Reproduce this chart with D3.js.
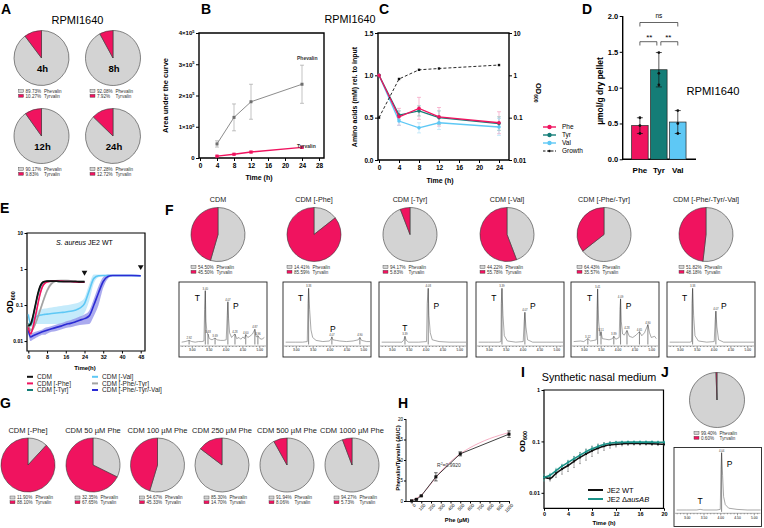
<!DOCTYPE html>
<html>
<head>
<meta charset="utf-8">
<script src="https://d3js.org/d3.v7.min.js"></script>
<style>
  body { margin: 0; background: #fff; }
  svg { font-family: Arial, "Liberation Sans", Helvetica, sans-serif; }
</style>
</head>
<body>
<svg id="fig" width="764" height="528"></svg>
<script>
// colours
const PINK = "#f0135f", TEAL = "#147d77", LBLUE = "#5ec8f5", PIEGREY = "#d3d3d3", DBLUE = "#2b2bd4";

// ---- A: RPMI1640 pies
const aLabels = ["4h", "8h", "12h", "24h"];
const aPhevalin = [89.73, 92.08, 90.17, 87.28];
const aTyrvalin = [10.27, 7.92, 9.83, 12.72];

// ---- B: area under the curve
const bTime = [4, 8, 12, 24];
const bPhevalin = [45000, 130000, 180000, 236000];
const bPhevalinSd = [10000, 43000, 56000, 61000];
const bTyrvalin = [6000, 12000, 19000, 34000];
const bTyrvalinSd = [1500, 2000, 2500, 3500];

// ---- C: amino acids rel. to input + growth
const cTime = [0, 4, 8, 12, 24];
const cPhe = [1.0, 0.51, 0.61, 0.51, 0.44];
const cPheSd = [0, 0.10, 0.13, 0.11, 0.13];
const cTyr = [1.0, 0.53, 0.58, 0.50, 0.43];
const cTyrSd = [0, 0.05, 0.06, 0.08, 0.08];
const cVal = [1.0, 0.46, 0.38, 0.44, 0.39];
const cValSd = [0, 0.05, 0.06, 0.08, 0.10];
const cGrowth = [0.1, 0.82, 1.35, 1.45, 1.75];

// ---- D: pellet amino acids
const dNames = ["Phe", "Tyr", "Val"];
const dMeans = [0.47, 1.25, 0.52];
const dSd = [0.11, 0.24, 0.16];
const dPoints = [[0.58, 0.47, 0.36], [1.49, 1.20, 1.04], [0.68, 0.50, 0.36]];

// ---- E: growth curves in CDM
const eNames = ["CDM", "CDM [-Phe]", "CDM [-Tyr]", "CDM [-Val]", "CDM [-Phe/-Tyr]", "CDM [-Phe/-Tyr/-Val]"];
const eTime = [0, 1, 2, 3, 4, 5, 6, 7, 8, 10, 12, 14, 16, 18, 20, 22, 24, 26, 28, 30, 32, 34, 36, 40, 44, 48];
const eCDM = [0.026, 0.03, 0.05, 0.1, 0.2, 0.33, 0.42, 0.45, 0.46, 0.46, 0.46, 0.45, 0.45, 0.45, 0.45, 0.44, 0.44];
const eCDMSd = [0.003, 0.003, 0.005, 0.01, 0.02, 0.03, 0.03, 0.02, 0.02, 0.02, 0.02, 0.02, 0.02, 0.02, 0.02, 0.02, 0.02];
const ePhe = [0.024, 0.016, 0.024, 0.048, 0.1, 0.2, 0.32, 0.4, 0.44, 0.46, 0.46, 0.46, 0.45, 0.45, 0.44, 0.43, 0.43];
const ePheSd = [0.003, 0.002, 0.003, 0.008, 0.02, 0.03, 0.04, 0.03, 0.02, 0.02, 0.02, 0.02, 0.02, 0.02, 0.02, 0.02, 0.02];
const eTyr = [0.03, 0.028, 0.045, 0.09, 0.18, 0.3, 0.4, 0.44, 0.45, 0.46, 0.46, 0.45, 0.45, 0.45, 0.44, 0.44, 0.44];
const eTyrSd = [0.003, 0.003, 0.005, 0.01, 0.02, 0.03, 0.03, 0.02, 0.02, 0.02, 0.02, 0.02, 0.02, 0.02, 0.02, 0.02, 0.02];
const eVal = [0.055, 0.03, 0.036, 0.045, 0.05, 0.052, 0.054, 0.055, 0.056, 0.058, 0.06, 0.062, 0.064, 0.067, 0.072, 0.082, 0.11, 0.25, 0.55, 0.65, 0.66, 0.66, 0.66, 0.66, 0.66, 0.65];
const eValSd = [0.01, 0.006, 0.01, 0.015, 0.02, 0.022, 0.024, 0.025, 0.026, 0.028, 0.03, 0.032, 0.034, 0.036, 0.038, 0.04, 0.05, 0.12, 0.15, 0.06, 0.03, 0.03, 0.03, 0.03, 0.03, 0.03];
const ePheTyr = [0.03, 0.02, 0.022, 0.03, 0.045, 0.07, 0.11, 0.17, 0.25, 0.4, 0.47, 0.48, 0.48, 0.47, 0.47, 0.46, 0.46];
const ePheTyrSd = [0.003, 0.003, 0.003, 0.004, 0.006, 0.01, 0.02, 0.03, 0.04, 0.04, 0.03, 0.02, 0.02, 0.02, 0.02, 0.02, 0.02];
const eTriple = [0.02, 0.013, 0.014, 0.015, 0.016, 0.017, 0.018, 0.019, 0.02, 0.022, 0.024, 0.026, 0.029, 0.031, 0.034, 0.038, 0.042, 0.05, 0.1, 0.22, 0.45, 0.62, 0.66, 0.66, 0.66, 0.65];
const eTripleSd = [0.004, 0.003, 0.003, 0.003, 0.003, 0.003, 0.003, 0.004, 0.004, 0.004, 0.005, 0.005, 0.006, 0.007, 0.008, 0.01, 0.013, 0.02, 0.05, 0.12, 0.15, 0.08, 0.03, 0.03, 0.03, 0.03];

// ---- F: pies + chromatograms
const fTitles = ["CDM", "CDM [-Phe]", "CDM [-Tyr]", "CDM [-Val]", "CDM [-Phe/-Tyr]", "CDM [-Phe/-Tyr/-Val]"];
const fPhevalin = [54.50, 14.41, 94.17, 44.22, 64.43, 51.82];
const fTyrvalin = [45.50, 85.59, 5.83, 55.78, 35.57, 48.18];
const fTraceCDM = [[2.7, 4], [2.8, 5], [2.92, 7], [3.0, 5], [3.1, 4], [3.2, 5], [3.3, 5], [3.36, 6], [3.38, 60], [3.40, 92], [3.42, 40], [3.45, 20], [3.48, 18], [3.52, 10], [3.6, 8], [3.69, 11], [3.75, 8], [3.85, 7], [3.95, 7], [4.02, 8], [4.05, 50], [4.07, 73], [4.09, 45], [4.12, 20], [4.18, 12], [4.22, 15], [4.28, 18], [4.33, 10], [4.4, 12], [4.45, 9], [4.52, 13], [4.56, 10], [4.60, 17], [4.66, 12], [4.72, 14], [4.8, 18], [4.87, 26], [4.91, 13], [4.96, 15], [5.02, 10], [5.08, 9], [5.15, 12]];
const fTracePhe = [[2.7, 4], [3.0, 4], [3.2, 4], [3.34, 5], [3.36, 70], [3.38, 96], [3.41, 60], [3.45, 25], [3.5, 12], [3.6, 7], [3.8, 5], [4.0, 6], [4.05, 10], [4.07, 13], [4.1, 8], [4.2, 7], [4.3, 6], [4.5, 5], [4.7, 6], [4.85, 8], [4.90, 12], [4.95, 7], [5.1, 5], [5.2, 5]];
const fTraceTyr = [[2.7, 4], [3.0, 4], [3.3, 4], [3.36, 8], [3.39, 14], [3.43, 7], [3.5, 4], [3.8, 4], [4.03, 5], [4.05, 70], [4.08, 96], [4.1, 50], [4.14, 20], [4.2, 8], [4.4, 5], [4.7, 4], [5.0, 4], [5.2, 4]];
const fTraceVal = [[2.7, 4], [3.0, 4], [3.3, 4], [3.36, 5], [3.37, 70], [3.39, 96], [3.42, 50], [3.46, 15], [3.55, 6], [3.8, 4], [4.02, 5], [4.05, 40], [4.07, 55], [4.10, 30], [4.15, 8], [4.3, 4], [4.7, 4], [5.2, 4]];
const fTracePheTyr = [[2.7, 5], [2.9, 6], [3.0, 5], [3.12, 10], [3.2, 6], [3.3, 7], [3.37, 8], [3.39, 60], [3.41, 95], [3.44, 40], [3.48, 15], [3.51, 22], [3.55, 10], [3.65, 9], [3.75, 8], [3.85, 10], [3.89, 14], [3.95, 9], [4.05, 12], [4.07, 60], [4.09, 78], [4.11, 40], [4.15, 18], [4.2, 16], [4.28, 24], [4.35, 14], [4.45, 12], [4.55, 16], [4.65, 22], [4.72, 15], [4.8, 20], [4.90, 34], [4.95, 20], [5.0, 12], [5.1, 14], [5.15, 10]];
const fTraceTriple = [[2.7, 4], [3.0, 4], [3.3, 4], [3.35, 5], [3.36, 70], [3.38, 96], [3.41, 50], [3.45, 15], [3.55, 6], [3.8, 4], [4.02, 5], [4.05, 42], [4.07, 57], [4.10, 30], [4.15, 8], [4.3, 4], [4.7, 4], [5.2, 4]];
const fPeaks = [
  [[2.92, "2.92"], [3.40, "3.40"], [3.48, "3.48"], [3.69, "3.69"], [4.07, "4.07"], [4.28, "4.28"], [4.60, "4.60"], [4.87, "4.87"], [4.96, "4.96"]],
  [[3.38, "3.38"], [4.07, "4.07"], [4.90, "4.90"]],
  [[3.39, "3.39"], [4.08, "4.08"]],
  [[3.39, "3.39"], [4.07, "4.07"]],
  [[3.12, "3.12"], [3.41, "3.41"], [3.51, "3.51"], [3.89, "3.89"], [4.09, "4.09"], [4.28, "4.28"], [4.65, "4.65"], [4.90, "4.90"]],
  [[3.38, "3.38"], [4.07, "4.07"]]
];
const fTPeak = [3.40, 3.38, 3.39, 3.39, 3.41, 3.38];
const fPPeak = [4.07, 4.07, 4.08, 4.07, 4.09, 4.07];

// ---- G: Phe titration pies
const gTitles = ["CDM [-Phe]", "CDM 50 µM Phe", "CDM 100 µM Phe", "CDM 250 µM Phe", "CDM 500 µM Phe", "CDM 1000 µM Phe"];
const gPhevalin = [11.90, 32.35, 54.67, 85.30, 91.94, 94.27];
const gTyrvalin = [88.10, 67.65, 45.33, 14.70, 8.06, 5.73];

// ---- H: ratio vs Phe
const hPhe = [0, 50, 100, 250, 500, 1000];
const hRatio = [0.05, 0.4, 1.25, 5.9, 11.5, 16.3];
const hRatioSd = [0, 0.1, 0.15, 1.0, 0.5, 0.8];
const hFitPhe = [0, 100, 200, 300, 400, 500, 600, 700, 800, 900, 1000];
const hFit = [0.1, 1.5, 4.2, 7.2, 9.6, 11.5, 13.0, 14.2, 15.2, 16.0, 16.7];
const hTicks = [0, 100, 200, 300, 400, 500, 600, 700, 800, 900, 1000];

// ---- I: synthetic nasal medium
const iTime = [0, 1, 2, 3, 4, 5, 6, 7, 8, 9, 10, 11, 12, 13, 14, 15, 16, 17, 18, 19, 20];
const iWT = [0.020, 0.019, 0.024, 0.029, 0.034, 0.041, 0.049, 0.057, 0.066, 0.074, 0.081, 0.086, 0.088, 0.090, 0.091, 0.091, 0.091, 0.091, 0.090, 0.089, 0.088];
const iWTSd = [0.002, 0.002, 0.004, 0.006, 0.008, 0.010, 0.012, 0.014, 0.015, 0.015, 0.014, 0.012, 0.010, 0.008, 0.007, 0.006, 0.006, 0.006, 0.006, 0.006, 0.006];
const iAus = [0.020, 0.022, 0.027, 0.033, 0.039, 0.046, 0.054, 0.063, 0.072, 0.080, 0.087, 0.092, 0.095, 0.096, 0.097, 0.097, 0.097, 0.097, 0.097, 0.096, 0.096];
const iAusSd = [0.003, 0.002, 0.003, 0.003, 0.004, 0.005, 0.006, 0.007, 0.007, 0.007, 0.007, 0.006, 0.006, 0.006, 0.006, 0.006, 0.006, 0.006, 0.006, 0.006, 0.006];

// ---- J: pie + chromatogram
const jPhevalin = 99.40, jTyrvalin = 0.60;
const jTrace = [[2.7, 3], [3.0, 3], [3.3, 3], [3.40, 4], [3.5, 3], [3.9, 3], [4.0, 4], [4.02, 70], [4.04, 98], [4.07, 60], [4.1, 25], [4.15, 12], [4.25, 6], [4.5, 4], [4.8, 3], [5.2, 3]];
const jPeaks = [[4.04, "4.04"]];

const svg = d3.select("#fig");

function txt(t, x, y, size, o = {}) {
  const el = svg.append("text").attr("x", x).attr("y", y).attr("font-size", size).text(t)
    .attr("text-anchor", o.anchor || "start");
  if (o.bold) el.attr("font-weight", "bold");
  if (o.italic) el.attr("font-style", "italic");
  if (o.fill) el.attr("fill", o.fill);
  if (o.rotate) el.attr("transform", `rotate(${o.rotate},${x},${y})`);
  return el;
}

function frame(x0, y0, x1, y1, sw, full) {
  svg.append("path")
    .attr("d", full ? `M${x0},${y0}H${x1}V${y1}H${x0}Z` : `M${x0},${y0}V${y1}H${x1}`)
    .attr("fill", "none").attr("stroke", "#000").attr("stroke-width", sw);
}

function axis(gen, tx, ty, fs) {
  const g = svg.append("g").attr("transform", `translate(${tx},${ty})`).call(gen);
  g.attr("font-family", null).attr("font-size", fs).attr("font-weight", "bold");
  g.select(".domain").remove();
  g.selectAll(".tick line").attr("stroke", "#000").attr("stroke-width", 1);
  g.selectAll(".tick text").attr("fill", "#000");
  return g;
}

function errBars(xs, ys, sds, xS, yS, color, cap, sw) {
  xs.forEach((t, i) => {
    if (ys[i] == null || !sds[i]) return;
    const x = xS(t), lo = Math.max(ys[i] - sds[i], yS.domain()[0]);
    const y0 = yS(lo), y1 = yS(ys[i] + sds[i]);
    svg.append("path")
      .attr("d", `M${x},${y0}V${y1}M${x - cap},${y0}H${x + cap}M${x - cap},${y1}H${x + cap}`)
      .attr("stroke", color).attr("stroke-width", sw).attr("fill", "none");
  });
}

function pie(cx, cy, r, phe, tyr, legDx) {
  const arcs = d3.pie().sort(null)([phe, tyr]);
  const arc = d3.arc().innerRadius(0).outerRadius(r);
  svg.append("g").attr("transform", `translate(${cx},${cy})`)
    .selectAll("path").data(arcs).join("path")
    .attr("d", arc).attr("fill", (d, i) => i ? PINK : PIEGREY)
    .attr("stroke", "#3a3a3a").attr("stroke-width", 0.6);
  [[phe, "Phevalin", PIEGREY], [tyr, "Tyrvalin", PINK]].forEach(([v, name, c], i) => {
    const y = cy + r + 5.5 + i * 4.8;
    svg.append("rect").attr("x", cx + legDx - 27).attr("y", y - 1.5).attr("width", 5).attr("height", 3)
      .attr("fill", c).attr("stroke", "#444").attr("stroke-width", 0.4);
    txt(v.toFixed(2) + "%", cx + legDx - 20, y + 1.7, 4.6, { fill: "#333" });
    txt(name, cx + legDx - 1.5, y + 1.7, 4.6, { fill: "#333" });
  });
}

function chrom(box, trace, peaks, tRT, pRT) {
  const x = d3.scaleLinear().domain([2.65, 5.2]).range([box.x + 1, box.x + box.w - 1]);
  const y = d3.scaleLinear().domain([0, 100]).range([box.axis - 1.5, box.y + 4]);
  svg.append("rect").attr("x", box.x).attr("y", box.y).attr("width", box.w).attr("height", box.h)
    .attr("fill", "#fff").attr("stroke", "#222").attr("stroke-width", 0.9);
  const major = axis(d3.axisBottom(x).tickValues([3, 3.5, 4, 4.5, 5]).tickFormat(d3.format(".2f")).tickSize(2).tickPadding(1), 0, box.axis, 3.3);
  major.attr("font-weight", null);
  major.selectAll(".tick line").attr("stroke-width", 0.4);
  const minor = axis(d3.axisBottom(x).tickValues([2.7, 2.8, 2.9, 3.1, 3.2, 3.3, 3.4, 3.6, 3.7, 3.8, 3.9, 4.1, 4.2, 4.3, 4.4, 4.6, 4.7, 4.8, 4.9, 5.1]).tickFormat("").tickSize(1), 0, box.axis, 3);
  minor.selectAll(".tick line").attr("stroke-width", 0.4);
  svg.append("line").attr("x1", box.x + 1).attr("x2", box.x + box.w - 1).attr("y1", box.axis).attr("y2", box.axis)
    .attr("stroke", "#333").attr("stroke-width", 0.4);
  const apex = rt => d3.max(trace.filter(d => Math.abs(d[0] - rt) < 0.015), d => d[1]);
  svg.append("path").datum(trace)
    .attr("d", d3.line().x(d => x(d[0])).y(d => y(d[1])))
    .attr("fill", "none").attr("stroke", "#6e6e6e").attr("stroke-width", 0.6);
  peaks.forEach(([rt, lab]) => {
    const h = apex(rt);
    svg.append("line").attr("x1", x(rt)).attr("x2", x(rt)).attr("y1", y(0)).attr("y2", y(h))
      .attr("stroke", "#111").attr("stroke-width", 0.5);
    txt(lab, x(rt), y(h) - 1, 2.8, { anchor: "middle", fill: "#444" });
  });
  const hT = apex(tRT), hP = apex(pRT);
  if (hT > 40) txt("T", x(tRT) - 8, box.y + box.tY, 8.5, { anchor: "middle", fill: "#000" });
  else txt("T", x(tRT), y(hT) - 5, 8.5, { anchor: "middle", fill: "#000" });
  if (hP > 40) txt("P", x(pRT) + 8, box.y + box.pY, 8.5, { anchor: "middle", fill: "#000" });
  else txt("P", x(pRT) + 1, y(hP) - 5, 8.5, { anchor: "middle", fill: "#000" });
}

// ---------- panel letters
[["A", 1, 14], ["B", 201, 14], ["C", 379, 14], ["D", 582, 14], ["E", 0, 213], ["F", 165, 215],
 ["G", 0, 408], ["H", 398, 408], ["I", 521, 377], ["J", 661, 377]]
  .forEach(([t, x, y]) => txt(t, x, y, 14, { bold: true }));

// ---------- A
txt("RPMI1640", 77.5, 23.5, 11, { anchor: "middle" });
const aPos = [[41.5, 58], [113, 58], [41.5, 136], [113, 136]];
aLabels.forEach((lab, i) => {
  pie(aPos[i][0], aPos[i][1], 27.5, aPhevalin[i], aTyrvalin[i], 4);
  txt(lab, aPos[i][0] + 1, aPos[i][1] + 14, 9.5, { anchor: "middle", bold: true });
});

// ---------- B
const bX = d3.scaleLinear().domain([0, 28]).range([200, 319]);
const bY = d3.scaleLinear().domain([0, 400000]).range([158, 33]);
frame(199, 33, 324, 158, 1.4, true);
axis(d3.axisBottom(bX).tickValues([0, 4, 8, 12, 16, 20, 24, 28]).tickSize(3).tickPadding(2), 0, 158, 6.5);
const bYAx = axis(d3.axisLeft(bY).tickValues([0, 100000, 200000, 300000, 400000]).tickSize(3).tickPadding(1.5), 199, 0, 6);
bYAx.selectAll(".tick text").each(function (d) {
  if (!d) return;
  const t = d3.select(this).text(null);
  t.append("tspan").text(`${d / 100000}×10`);
  t.append("tspan").attr("dy", -2.5).attr("font-size", 4).text("5");
});
errBars(bTime, bPhevalin, bPhevalinSd, bX, bY, "#9a9a9a", 2, 0.6);
errBars(bTime, bTyrvalin, bTyrvalinSd, bX, bY, "#f27aa5", 2, 0.6);
const bLine = d3.line().x((d, i) => bX(bTime[i])).y(d => bY(d));
svg.append("path").datum(bPhevalin).attr("d", bLine).attr("fill", "none").attr("stroke", "#6f6f6f").attr("stroke-width", 0.8);
svg.append("path").datum(bTyrvalin).attr("d", bLine).attr("fill", "none").attr("stroke", PINK).attr("stroke-width", 1.5);
bPhevalin.forEach((v, i) => svg.append("rect").attr("x", bX(bTime[i]) - 1.5).attr("y", bY(v) - 1.5).attr("width", 3).attr("height", 3).attr("fill", "#6f6f6f"));
bTyrvalin.forEach((v, i) => svg.append("rect").attr("x", bX(bTime[i]) - 1.6).attr("y", bY(v) - 1.6).attr("width", 3.2).attr("height", 3.2).attr("fill", PINK));
txt("Phevalin", 297, 60, 5, { bold: true, fill: "#333" });
txt("Tyrvalin", 297, 148, 5, { bold: true, fill: "#333" });
txt("Time (h)", 259, 180, 7, { anchor: "middle", bold: true });
txt("Area under the curve", 168, 95.5, 7.5, { anchor: "middle", bold: true, rotate: -90 });
txt("RPMI1640", 350, 23, 10.8, { anchor: "middle" });

// ---------- C
const cX = d3.scaleLinear().domain([0, 24]).range([379, 499]);
const cYL = d3.scaleLinear().domain([0, 1.5]).range([160, 33]);
const cYR = d3.scaleLog().domain([0.01, 10]).range([160, 33]);
frame(378, 33, 509, 160, 1.4, true);
axis(d3.axisBottom(cX).tickValues([0, 4, 8, 12, 16, 20, 24]).tickSize(3).tickPadding(2), 0, 160, 6.5);
axis(d3.axisLeft(cYL).tickValues([0, 0.5, 1.0, 1.5]).tickFormat(d3.format(".1f")).tickSize(3).tickPadding(1.5), 378, 0, 6.5);
axis(d3.axisRight(cYR).tickValues([0.01, 0.1, 1, 10]).tickFormat(d => d < 1 ? String(d) : d3.format("d")(d)).tickSize(3).tickPadding(1.5), 509, 0, 6.5);
[[cPhe, cPheSd, "#f48fb5"], [cTyr, cTyrSd, "#78b8b3"], [cVal, cValSd, "#a9dff8"]].forEach(([v, sd, ce]) => {
  errBars(cTime, v, sd, cX, cYL, ce, 2, 0.6);
});
[[cVal, LBLUE], [cTyr, TEAL], [cPhe, PINK]].forEach(([v, c]) => {
  svg.append("path").datum(v).attr("d", d3.line().x((d, i) => cX(cTime[i])).y(d => cYL(d)))
    .attr("fill", "none").attr("stroke", c).attr("stroke-width", 1.3);
  v.forEach((d, i) => svg.append("circle").attr("cx", cX(cTime[i])).attr("cy", cYL(d)).attr("r", 1.8).attr("fill", c));
});
svg.append("path").datum(cGrowth).attr("d", d3.line().x((d, i) => cX(cTime[i])).y(d => cYR(d)))
  .attr("fill", "none").attr("stroke", "#111").attr("stroke-width", 0.9).attr("stroke-dasharray", "3,2");
cGrowth.forEach((d, i) => svg.append("rect").attr("x", cX(cTime[i]) - 1.2).attr("y", cYR(d) - 1.2).attr("width", 2.4).attr("height", 2.4).attr("fill", "#111"));
txt("Time (h)", 440, 183, 7, { anchor: "middle", bold: true });
txt("Amino acids (mM) rel. to input", 357, 97, 7, { anchor: "middle", bold: true, rotate: -90 });
const odC = txt("OD", 536, 83, 7.5, { bold: true, rotate: 90 });
odC.append("tspan").attr("dy", 2).attr("font-size", 5).text("600");
[["Phe", PINK, false], ["Tyr", TEAL, false], ["Val", LBLUE, false], ["Growth", "#111", true]].forEach(([n, c, dash], i) => {
  const y = 127 + i * 8;
  svg.append("line").attr("x1", 543).attr("x2", 556).attr("y1", y).attr("y2", y).attr("stroke", c)
    .attr("stroke-width", dash ? 1 : 1.4).attr("stroke-dasharray", dash ? "2.5,1.5" : null);
  svg.append("circle").attr("cx", 549.5).attr("cy", y).attr("r", dash ? 1.3 : 2.2).attr("fill", c);
  txt(n, 562, y + 2.3, 6.5);
});

// ---------- D
const dX = d3.scaleBand().domain(dNames).range([629.2, 688.5]).padding(0.13);
const dY = d3.scaleLinear().domain([0, 2]).range([159.3, 16]);
const dColors = [PINK, TEAL, LBLUE];
frame(622.7, 16, 696, 159.3, 1.4, false);
axis(d3.axisLeft(dY).tickValues([0, 0.5, 1.0, 1.5, 2.0]).tickFormat(d3.format(".1f")).tickSize(3).tickPadding(1.5), 622.7, 0, 7.5);
dNames.forEach((n, i) => {
  svg.append("rect").attr("x", dX(n)).attr("y", dY(dMeans[i])).attr("width", dX.bandwidth())
    .attr("height", dY(0) - dY(dMeans[i])).attr("fill", dColors[i]).attr("stroke", "#222").attr("stroke-width", 0.7);
  const cx = dX(n) + dX.bandwidth() / 2;
  errBars([n], [dMeans[i]], [dSd[i]], () => cx, dY, "#111", 3, 0.7);
  dPoints[i].forEach(p => svg.append("circle").attr("cx", cx).attr("cy", dY(p)).attr("r", 1.4).attr("fill", "#111"));
  txt(n, cx, 172.5, 8, { anchor: "middle", bold: true });
});
const dC = n => dX(n) + dX.bandwidth() / 2;
svg.append("path").attr("d", `M${dC("Phe")},26.5V22.5H${dC("Val")}V26.5`).attr("fill", "none").attr("stroke", "#222").attr("stroke-width", 0.7);
svg.append("path").attr("d", `M${dC("Phe")},45.5V41.7H${dC("Tyr") - 2}V45.5`).attr("fill", "none").attr("stroke", "#222").attr("stroke-width", 0.7);
svg.append("path").attr("d", `M${dC("Tyr") + 2},45.5V41.7H${dC("Val")}V45.5`).attr("fill", "none").attr("stroke", "#222").attr("stroke-width", 0.7);
txt("ns", (dC("Phe") + dC("Val")) / 2, 18, 6.5, { anchor: "middle" });
txt("**", (dC("Phe") + dC("Tyr")) / 2, 40, 8, { anchor: "middle" });
txt("**", (dC("Tyr") + dC("Val")) / 2, 40, 8, { anchor: "middle" });
txt("µmol/g dry pellet", 603, 91, 8.5, { anchor: "middle", bold: true, rotate: -90 });
txt("RPMI1640", 686.5, 94.5, 11.2);

// ---------- E
const eX = d3.scaleLinear().domain([0, 48]).range([28.3, 140.7]);
const eY = d3.scaleLog().domain([0.0053, 10]).range([351, 233]);
const eSeries = [
  [eCDM, eCDMSd, "#111111", "#8c8c8c"],
  [ePhe, ePheSd, PINK, "#f6a0bf"],
  [eTyr, eTyrSd, TEAL, "#8cc7c2"],
  [eVal, eValSd, LBLUE, "#b2e4fa"],
  [ePheTyr, ePheTyrSd, "#a3a3a3", "#d2d2d2"],
  [eTriple, eTripleSd, DBLUE, "#8e8ee8"]
];
frame(27, 233, 145, 351, 1.2, true);
axis(d3.axisBottom(eX).tickValues([0, 8, 16, 24, 32, 40, 48]).tickSize(2.5).tickPadding(1.5), 0, 351, 5.5);
axis(d3.axisLeft(eY).tickValues([0.01, 0.1, 1, 10]).tickFormat(d => String(d)).tickSize(2.5).tickPadding(1.5), 27, 0, 5);
[3, 5, 4, 0, 2, 1].forEach(k => {
  const [v, sd, , band] = eSeries[k];
  const area = d3.area().defined(d => d != null).curve(d3.curveMonotoneX)
    .x((d, i) => eX(eTime[i])).y0((d, i) => eY(Math.max(d - sd[i], 0.006))).y1((d, i) => eY(d + sd[i]));
  svg.append("path").datum(v).attr("d", area).attr("fill", band).attr("opacity", 0.75);
});
[3, 5, 4, 2, 1, 0].forEach(k => {
  const [v, , c] = eSeries[k];
  const line = d3.line().defined(d => d != null).curve(d3.curveMonotoneX).x((d, i) => eX(eTime[i])).y(d => eY(d));
  svg.append("path").datum(v).attr("d", line).attr("fill", "none").attr("stroke", c).attr("stroke-width", 1.6);
});
[[24, 0.8], [48, 1.15]].forEach(([t, od]) => {
  svg.append("path").attr("d", d3.symbol(d3.symbolTriangle, 14)()).attr("transform", `translate(${eX(t)},${eY(od)}) rotate(180)`).attr("fill", "#111");
});
const eTitle = txt("S. aureus", 56, 244.5, 7, { italic: true });
eTitle.append("tspan").attr("font-style", "normal").text(" JE2 WT");
const odE = txt("OD", 13, 313, 8.5, { bold: true, rotate: -90 });
odE.append("tspan").attr("dy", 2).attr("font-size", 5.5).text("600");
txt("Time(h)", 85, 370, 6, { anchor: "middle", bold: true });
eNames.forEach((n, i) => {
  const x = i < 3 ? 27 : 92, y = 376.8 + (i % 3) * 6.6;
  svg.append("line").attr("x1", x).attr("x2", x + 6).attr("y1", y).attr("y2", y).attr("stroke", eSeries[i][2]).attr("stroke-width", 2);
  txt(n, x + 10, y + 2.3, 6.5, { fill: "#222" });
});

// ---------- F
const fPieX = [218, 314, 410, 507, 604, 706];
const fBoxX = [179, 283, 379, 476, 571, 667];
const fTraces = [fTraceCDM, fTracePhe, fTraceTyr, fTraceVal, fTracePheTyr, fTraceTriple];
fTitles.forEach((t, i) => {
  txt(t, fPieX[i], 202, 7.2, { anchor: "middle", fill: "#222" });
  pie(fPieX[i], 234.5, 27, fPhevalin[i], fTyrvalin[i], 0);
  chrom({ x: fBoxX[i], y: 282, w: 88, h: 75, axis: 346, tY: 19, pY: 27 }, fTraces[i], fPeaks[i], fTPeak[i], fPPeak[i]);
});

// ---------- G
const gPieX = [28, 93, 157.5, 222, 287, 352];
gTitles.forEach((t, i) => {
  txt(t, gPieX[i], 433, 7.5, { anchor: "middle", fill: "#222" });
  pie(gPieX[i], 465, 27, gPhevalin[i], gTyrvalin[i], 9);
});

// ---------- H
const hX = d3.scaleLinear().domain([0, 1000]).range([411.5, 509]);
const hY = d3.scaleLinear().domain([0, 20]).range([501, 419]);
frame(406, 419, 510, 501.5, 0.9, false);
axis(d3.axisLeft(hY).tickValues([0, 5, 10, 15, 20]).tickSize(2).tickPadding(1), 406, 0, 4.5).attr("font-weight", null);
const hXAx = axis(d3.axisBottom(hX).tickValues(hTicks).tickSize(2).tickFormat(d3.format("d")), 0, 501.5, 4.5).attr("font-weight", null);
hXAx.selectAll(".tick text").attr("text-anchor", "end").attr("transform", "translate(1,1) rotate(-45)").attr("dy", "0.3em").attr("y", 3);
svg.append("path").datum(hFit).attr("d", d3.line().curve(d3.curveMonotoneX).x((d, i) => hX(hFitPhe[i])).y(d => hY(d)))
  .attr("fill", "none").attr("stroke", "#f08aa8").attr("stroke-width", 0.7);
errBars(hPhe, hRatio, hRatioSd, hX, hY, "#111", 1.8, 0.6);
svg.append("path").datum(hRatio).attr("d", d3.line().x((d, i) => hX(hPhe[i])).y(d => hY(d)))
  .attr("fill", "none").attr("stroke", "#111").attr("stroke-width", 0.8);
hRatio.forEach((d, i) => svg.append("rect").attr("x", hX(hPhe[i]) - 1.5).attr("y", hY(d) - 1.5).attr("width", 3).attr("height", 3).attr("fill", "#111"));
const r2 = txt("R", 437, 466.5, 5, { fill: "#333" });
r2.append("tspan").attr("dy", -1.8).attr("font-size", 3.5).text("2");
r2.append("tspan").attr("dy", 1.8).text("=0.9920");
txt("Phevalin/Tyrvalin (AUC)", 399.5, 458, 5.8, { anchor: "middle", bold: true, rotate: -90 });
txt("Phe (µM)", 457, 522, 5.8, { anchor: "middle", bold: true });

// ---------- I
const iX = d3.scaleLinear().domain([0, 20]).range([544, 664]);
const iY = d3.scaleLog().domain([0.005, 1]).range([508.3, 390]);
frame(544, 390, 663.5, 508.3, 1.2, true);
axis(d3.axisBottom(iX).tickValues([0, 4, 8, 12, 16, 20]).tickSize(2.5).tickPadding(1.5), 0, 508.3, 5.5);
axis(d3.axisLeft(iY).tickValues([0.01, 0.1, 1]).tickFormat(d => String(d)).tickSize(2.5).tickPadding(1.5), 544, 0, 5.5);
errBars(iTime, iWT, iWTSd, iX, iY, "#555", 0.8, 0.5);
errBars(iTime, iAus, iAusSd, iX, iY, "#4fb0a8", 0.8, 0.5);
[[iWT, "#111"], [iAus, "#1b9288"]].forEach(([v, c]) => {
  svg.append("path").datum(v).attr("d", d3.line().curve(d3.curveMonotoneX).x((d, i) => iX(iTime[i])).y(d => iY(d)))
    .attr("fill", "none").attr("stroke", c).attr("stroke-width", 1.6);
  v.forEach((d, i) => svg.append("rect").attr("x", iX(iTime[i]) - 1).attr("y", iY(d) - 1).attr("width", 2).attr("height", 2).attr("fill", c));
});
txt("Synthetic nasal medium", 599, 381, 10.8, { anchor: "middle" });
const odI = txt("OD", 525, 452, 8, { bold: true, rotate: -90 });
odI.append("tspan").attr("dy", 2).attr("font-size", 5.5).text("600");
txt("Time (h)", 604, 525, 6, { anchor: "middle", bold: true });
[["JE2 WT", "#111"], ["JE2 Δ", "#1b9288"]].forEach(([n, c], i) => {
  const y = 490 + i * 9;
  svg.append("line").attr("x1", 588).attr("x2", 603).attr("y1", y).attr("y2", y).attr("stroke", c).attr("stroke-width", 2);
  svg.append("rect").attr("x", 594.5).attr("y", y - 1).attr("width", 2).attr("height", 2).attr("fill", c);
  const t = txt(n, 607, y + 2.6, 7.5);
  if (i === 1) t.append("tspan").attr("font-style", "italic").text("ausAB");
});

// ---------- J
pie(717, 400, 27.5, jPhevalin, jTyrvalin, 4);
chrom({ x: 674, y: 447.5, w: 87.5, h: 79, axis: 513.3, tY: 19, pY: 19 }, jTrace, jPeaks, 3.40, 4.04);
</script>
</body>
</html>
